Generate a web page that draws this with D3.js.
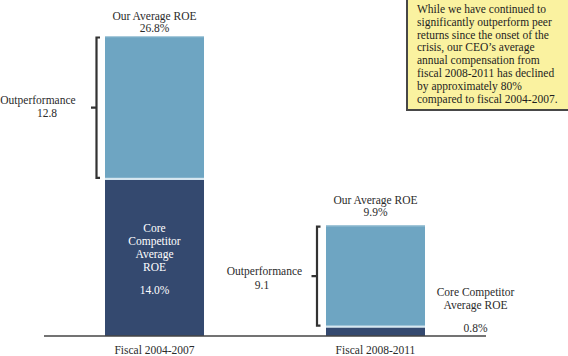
<!DOCTYPE html>
<html><head><meta charset="utf-8">
<script src="https://cdn.jsdelivr.net/npm/d3@7/dist/d3.min.js"></script>
<style>
html,body{margin:0;padding:0;background:#fff;}
svg{display:block;}
text{font-family:"Liberation Serif","DejaVu Serif",serif;font-size:11.5px;fill:#2b2b2b;}
</style></head>
<body>
<script>
const categories = ["Fiscal 2004-2007", "Fiscal 2008-2011"];
const ourROE = [26.8, 9.9];
const competitorROE = [14.0, 0.8];
const outperformance = [12.8, 9.1];
const noteLines = [
  "While we have continued to",
  "significantly outperform peer",
  "returns since the onset of the",
  "crisis, our CEO\u2019s average",
  "annual compensation from",
  "fiscal 2008-2011 has declined",
  "by approximately 80%",
  "compared to fiscal 2004-2007."
];

const W = 568, H = 356;
const svg = d3.select("body").append("svg").attr("width", W).attr("height", H);

const baseY = 336;
const y = d3.scaleLinear().domain([0, d3.max(ourROE)]).range([baseY, 36]);
const x = d3.scaleBand().domain(categories).range([105, 425]).paddingInner(0.552).paddingOuter(0);
const bw = x.bandwidth();
const cx = c => x(c) + bw / 2;

const light = "#6ea5c2", navy = "#34496f";

// bars
const g = svg.append("g");
categories.forEach((c, i) => {
  // outperformance (upper) segment
  g.append("rect").attr("x", x(c)).attr("width", bw)
    .attr("y", y(ourROE[i])).attr("height", y(competitorROE[i]) - y(ourROE[i]))
    .attr("fill", light);
  // top highlight
  g.append("rect").attr("x", x(c)).attr("width", bw)
    .attr("y", y(ourROE[i])).attr("height", 1.2).attr("fill", "#a8cadb");
  // competitor segment
  g.append("rect").attr("x", x(c)).attr("width", bw)
    .attr("y", y(competitorROE[i])).attr("height", baseY - y(competitorROE[i]))
    .attr("fill", navy);
  // separator
  g.append("rect").attr("x", x(c)).attr("width", bw)
    .attr("y", y(competitorROE[i]) - 1.5).attr("height", 2.2).attr("fill", "#d6e7f0");
});

// baseline
svg.append("line").attr("x1", 44).attr("x2", 486).attr("y1", baseY).attr("y2", baseY)
  .attr("stroke", "#444").attr("stroke-width", 1.6);

// category labels
categories.forEach(c => {
  svg.append("text").attr("x", cx(c)).attr("y", 354).attr("text-anchor", "middle").text(c);
});

// Our Average ROE labels
const topOffsets = [[-16.5, -4], [-21, -9]];
categories.forEach((c, i) => {
  const t = y(ourROE[i]);
  svg.append("text").attr("x", cx(c)).attr("y", t + topOffsets[i][0]).attr("text-anchor", "middle").text("Our Average ROE");
  svg.append("text").attr("x", cx(c)).attr("y", t + topOffsets[i][1]).attr("text-anchor", "middle").text(d3.format(".1f")(ourROE[i]) + "%");
});

// Competitor labels
const c0 = categories[0];
const inside = ["Core", "Competitor", "Average", "ROE"];
inside.forEach((s, k) => {
  svg.append("text").attr("x", cx(c0)).attr("y", 232.3 + k * 12.9).attr("text-anchor", "middle")
    .style("fill", "#fff").text(s);
});
svg.append("text").attr("x", cx(c0)).attr("y", 293.7).attr("text-anchor", "middle")
  .style("fill", "#fff").text(d3.format(".1f")(competitorROE[0]) + "%");

const sideX = 475.5;
svg.append("text").attr("x", sideX).attr("y", 295.7).attr("text-anchor", "middle").text("Core Competitor");
svg.append("text").attr("x", sideX).attr("y", 309.3).attr("text-anchor", "middle").text("Average ROE");
svg.append("text").attr("x", sideX).attr("y", y(competitorROE[1]) + 4.5).attr("text-anchor", "middle").text(d3.format(".1f")(competitorROE[1]) + "%");

// brackets
const bracketX = [96.5, 317];
categories.forEach((c, i) => {
  const bx = bracketX[i];
  const yt = y(ourROE[i]) + 1.5, yb = y(competitorROE[i]) - 1.5;
  const ym = (yt + yb) / 2;
  svg.append("path")
    .attr("d", `M${bx + 3.5},${yt} H${bx} V${yb} H${bx + 3.5} M${bx},${ym} H${bx - 5.5}`)
    .attr("fill", "none").attr("stroke", "#333").attr("stroke-width", 2.2);
});

// outperformance labels
const outLab = [{x: 38, x2: 47, y: 103.5}, {x: 264.5, x2: 262, y: 275}];
categories.forEach((c, i) => {
  svg.append("text").attr("x", outLab[i].x).attr("y", outLab[i].y).attr("text-anchor", "middle").text("Outperformance");
  svg.append("text").attr("x", outLab[i].x2).attr("y", outLab[i].y + 13.5).attr("text-anchor", "middle").text(d3.format(".1f")(outperformance[i]));
});

// note box
svg.append("rect").attr("x", 407).attr("y", -3).attr("width", 164).attr("height", 113)
  .attr("fill", "#faf2a0").attr("stroke", "#474747").attr("stroke-width", 2);
noteLines.forEach((s, k) => {
  svg.append("text").attr("x", 417).attr("y", 13 + k * 12.8).style("fill", "#1e1e1e").text(s);
});
</script>
</body></html>
